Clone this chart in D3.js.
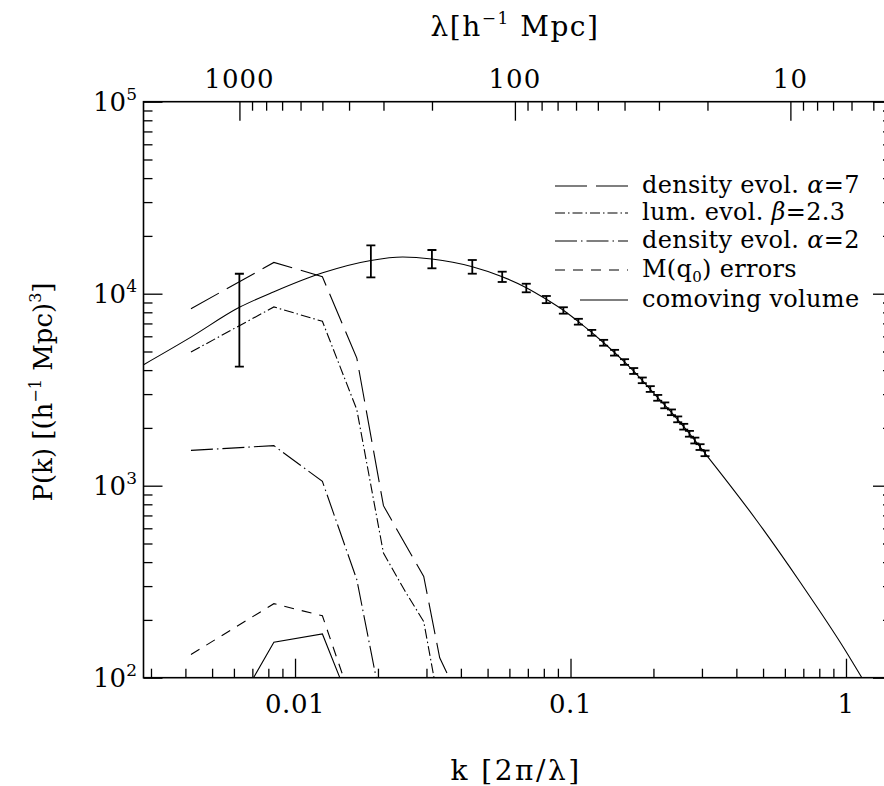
<!DOCTYPE html>
<html>
<head>
<meta charset="utf-8">
<script src="https://cdn.jsdelivr.net/npm/d3@7"></script>
<style>
  body { margin: 0; background: #fff; }
  svg text { font-family: "DejaVu Serif", serif; fill: #000; }
</style>
</head>
<body>
<svg id="chart" width="884" height="786"></svg>
<script>
// ---- data ----
// wavenumber grid (h/Mpc) of the selection-function curves
const kGrid = [0.00419, 0.00838, 0.01257, 0.01676, 0.02094, 0.02513, 0.02932, 0.03351, 0.0377];
const densityEvolA7 = [8350, 14550, 12260, 4620, 787, 495, 337, 127, 89];
const lumEvolB23 = [4970, 8530, 7180, 2490, 446, 281, 196, 69];
const densityEvolA2 = [1527, 1616, 1053, 324, 64];
const mq0Errors = [132, 243, 210, 63];
const comovingVolume = [27, 153, 169, 60];

// model power spectrum
const kModel = [0.002818, 0.00419, 0.00628, 0.00839, 0.0126, 0.01885, 0.0246, 0.0314, 0.044, 0.0565,
  0.0691, 0.0817, 0.0942, 0.1068, 0.1319, 0.157, 0.1822, 0.2073, 0.2325, 0.2576, 0.3079, 0.474, 0.681,
  1.0, 1.14, 1.469];
const pModel = [4266, 5940, 8490, 10240, 12850, 14900, 15530, 15160, 13820, 12260,
  10750, 9350, 8195, 7150, 5555, 4410, 3540, 2873, 2412, 2029, 1475, 659, 315,
  137, 100.4, 54];

// band-power estimates with error bars
const kBars = [0.00628, 0.01885, 0.0314, 0.044, 0.0565, 0.0691, 0.0817, 0.0942, 0.1068, 0.1194,
  0.1319, 0.1445, 0.1571, 0.1696, 0.1822, 0.1948, 0.2073, 0.2199, 0.2325, 0.2450, 0.2576, 0.2702,
  0.2827, 0.2953, 0.3079];
const barLo = [4170, 12160, 13560, 12710, 11510, 10170, 8930, 7870, 6900, 6040, 5360, 4760, 4260,
  3820, 3420, 3080, 2770, 2530, 2330, 2140, 1960, 1800, 1660, 1535, 1425];
const barHi = [12700, 17850, 16890, 14980, 13020, 11270, 9730, 8500, 7400, 6480, 5750, 5100, 4560,
  4100, 3660, 3300, 2970, 2715, 2495, 2295, 2100, 1930, 1780, 1645, 1525];

// axis ticks and labels
const kLabels = [0.01, 0.1, 1];
const kLabelText = ["0.01", "0.1", "1"];
const lambdaMajor = [1000, 100, 10];
const lambdaLabelText = ["1000", "100", "10"];
const lambdaMinor = [900, 800, 700, 600, 500, 400, 300, 200, 90, 80, 70, 60, 50, 40, 30, 20, 9, 8, 7, 6, 5];
const pExponents = [2, 3, 4, 5];

const legendItems = [
  { key: "a7", dash: "32,9" },
  { key: "b23", dash: "10,3,1.5,3" },
  { key: "a2", dash: "22,4,1.5,4" },
  { key: "mq", dash: "10,8" },
  { key: "cv", dash: null }
];

// ---- layout ----
const svg = d3.select("#chart");
const L = 143.5, R = 892, T = 101.7, B = 677.7;
const kMin = 0.002818, kMax = 1.469;

const x = d3.scaleLog().domain([kMin, kMax]).range([L, R]);
const xl = d3.scaleLog().domain([2 * Math.PI / kMin, 2 * Math.PI / kMax]).range([L, R]);
const y = d3.scaleLog().domain([100, 1e5]).range([B, T]);

svg.append("defs").append("clipPath").attr("id", "plot")
  .append("rect").attr("x", L).attr("y", T).attr("width", R - L).attr("height", B - T);

// ---- ticks ----
function minorOf(lo, hi, dom) {
  const v = [];
  for (let e = lo; e <= hi; e++) for (let m = 2; m <= 9; m++) {
    const t = m * Math.pow(10, e);
    if (t > dom[0] && t < dom[1]) v.push(t);
  }
  return v;
}
const kMinor = minorOf(-3, 0, [kMin, kMax]);
const pMinor = minorOf(2, 4, [100, 1e5]);
const pMajor = pExponents.map(e => Math.pow(10, e));

function tickGroup(axis, tf) {
  const g = svg.append("g").attr("transform", tf).call(axis);
  g.select(".domain").remove();
  g.selectAll("line").attr("stroke", "#000").attr("stroke-width", 1.3);
  g.selectAll("text").remove();
  return g;
}
// bottom
tickGroup(d3.axisBottom(x).tickValues(kMinor).tickSize(-9), `translate(0,${B})`);
tickGroup(d3.axisBottom(x).tickValues(kLabels).tickSize(-19), `translate(0,${B})`);
// top (wavelength)
tickGroup(d3.axisTop(xl).tickValues(lambdaMinor).tickSize(-9), `translate(0,${T})`);
tickGroup(d3.axisTop(xl).tickValues(lambdaMajor).tickSize(-19), `translate(0,${T})`);
// left
tickGroup(d3.axisLeft(y).tickValues(pMinor).tickSize(-9), `translate(${L},0)`);
tickGroup(d3.axisLeft(y).tickValues(pMajor).tickSize(-19), `translate(${L},0)`);
// right
tickGroup(d3.axisRight(y).tickValues(pMinor).tickSize(-9), `translate(${R},0)`);
tickGroup(d3.axisRight(y).tickValues(pMajor).tickSize(-19), `translate(${R},0)`);

// frame
svg.append("rect").attr("x", L).attr("y", T).attr("width", R - L).attr("height", B - T)
  .attr("fill", "none").attr("stroke", "#000").attr("stroke-width", 1.6);

// ---- tick labels ----
svg.append("g").selectAll("text").data(kLabels).join("text")
  .attr("x", d => x(d)).attr("y", 713).attr("text-anchor", "middle")
  .attr("font-size", 26).attr("letter-spacing", 0.5).text((d, i) => kLabelText[i]);

svg.append("g").selectAll("text").data(lambdaMajor).join("text")
  .attr("x", d => xl(d)).attr("y", 88).attr("text-anchor", "middle")
  .attr("font-size", 26).attr("letter-spacing", 1).text((d, i) => lambdaLabelText[i]);

const yl = svg.append("g").selectAll("text").data(pExponents).join("text")
  .attr("x", 137).attr("y", d => y(Math.pow(10, d)) + 9.5).attr("text-anchor", "end")
  .attr("font-size", 26);
yl.append("tspan").text("10");
yl.append("tspan").attr("font-size", 17).attr("dy", -11).text(d => d);

// ---- axis titles ----
const tt = svg.append("text").attr("x", 515).attr("y", 36).attr("text-anchor", "middle")
  .attr("font-size", 28).attr("letter-spacing", 1.5);
tt.append("tspan").text("λ[h");
tt.append("tspan").attr("font-size", 17).attr("dy", -12).text("−1");
tt.append("tspan").attr("dy", 12).text(" Mpc]");

svg.append("text").attr("x", 516).attr("y", 780).attr("text-anchor", "middle")
  .attr("font-size", 28).attr("letter-spacing", 2.5).text("k [2π/λ]");

const yt = svg.append("text").attr("transform", "translate(52,392) rotate(-90)")
  .attr("text-anchor", "middle").attr("font-size", 26);
yt.append("tspan").text("P(k) [(h");
yt.append("tspan").attr("font-size", 16).attr("dy", -11).text("−1");
yt.append("tspan").attr("dy", 11).text(" Mpc)");
yt.append("tspan").attr("font-size", 16).attr("dy", -11).text("3");
yt.append("tspan").attr("dy", 11).text("]");

// ---- curves ----
const plot = svg.append("g").attr("clip-path", "url(#plot)");
const poly = d3.line().x(d => x(d[0])).y(d => y(d[1]));
const smooth = d3.line().x(d => x(d[0])).y(d => y(d[1])).curve(d3.curveMonotoneX);

function series(vals, dash) {
  plot.append("path").datum(vals.map((v, i) => [kGrid[i], v]))
    .attr("d", poly).attr("fill", "none").attr("stroke", "#000").attr("stroke-width", 1.1)
    .attr("stroke-dasharray", dash);
}
series(densityEvolA7, legendItems[0].dash);
series(lumEvolB23, legendItems[1].dash);
series(densityEvolA2, legendItems[2].dash);
series(mq0Errors, legendItems[3].dash);
series(comovingVolume, null);

plot.append("path").datum(kModel.map((k, i) => [k, pModel[i]]))
  .attr("d", smooth).attr("fill", "none").attr("stroke", "#000").attr("stroke-width", 1.1);

// error bars
const bars = plot.append("g").attr("stroke", "#000").attr("stroke-width", 1.8);
kBars.forEach((k, i) => {
  const cx = x(k), y0 = y(barLo[i]), y1 = y(barHi[i]), hw = 4.5;
  bars.append("line").attr("x1", cx).attr("x2", cx).attr("y1", y0).attr("y2", y1);
  bars.append("line").attr("x1", cx - hw).attr("x2", cx + hw).attr("y1", y0).attr("y2", y0);
  bars.append("line").attr("x1", cx - hw).attr("x2", cx + hw).attr("y1", y1).attr("y2", y1);
});

// ---- legend ----
const lg = svg.append("g");
const rowY = [186, 213, 241, 270, 300];
legendItems.forEach((it, i) => {
  const yy = rowY[i];
  lg.append("line").attr("x1", it.key === "cv" ? 580 : 555).attr("x2", 628)
    .attr("y1", yy).attr("y2", yy).attr("stroke", "#000").attr("stroke-width", 1.1)
    .attr("stroke-dasharray", it.dash);
  const t = lg.append("text").attr("x", 642).attr("y", yy + 7).attr("font-size", 24)
    .attr("letter-spacing", 0.3);
  if (it.key === "a7") {
    t.append("tspan").text("density evol. ");
    t.append("tspan").attr("font-style", "italic").text("α");
    t.append("tspan").text("=7");
  } else if (it.key === "b23") {
    t.append("tspan").text("lum. evol. ");
    t.append("tspan").attr("font-style", "italic").text("β");
    t.append("tspan").text("=2.3");
  } else if (it.key === "a2") {
    t.append("tspan").text("density evol. ");
    t.append("tspan").attr("font-style", "italic").text("α");
    t.append("tspan").text("=2");
  } else if (it.key === "mq") {
    t.append("tspan").text("M(q");
    t.append("tspan").attr("font-size", 15).attr("dy", 5).text("0");
    t.append("tspan").attr("dy", -5).text(") errors");
  } else {
    t.append("tspan").text("comoving volume");
  }
});
</script>
</body>
</html>
